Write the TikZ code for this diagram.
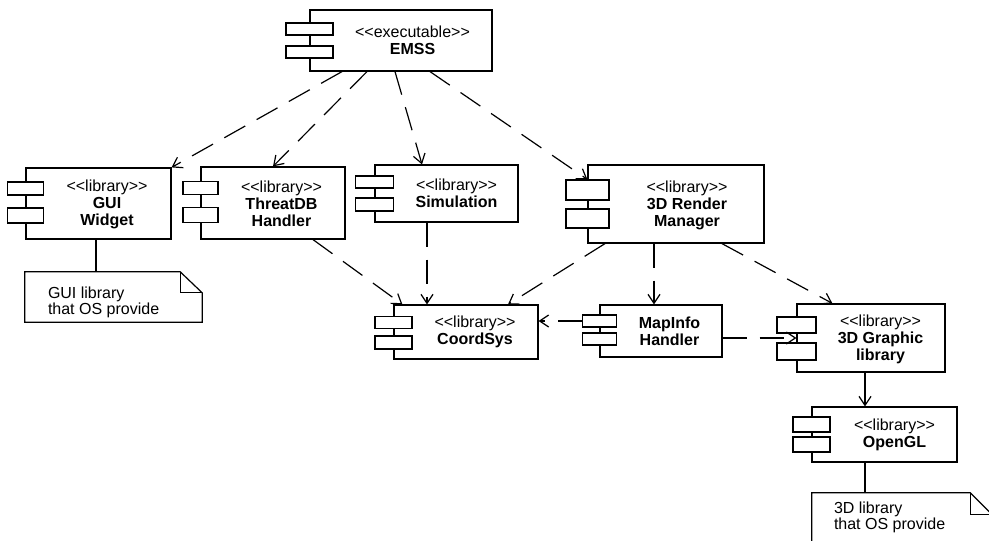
\documentclass[tikz,border=0pt]{standalone}
\usepackage{fontspec}
\setmainfont{Liberation Sans}[Ligatures=TeXOff]
\usetikzlibrary{arrows.meta}

\begin{document}
\begin{tikzpicture}[x=1pt, y=-1pt,
  every node/.style={inner sep=0pt, font=\fontsize{16}{17}\selectfont},
  compbody/.style={rectangle, draw, line width=1.2pt, fill=white},
  port/.style 2 args={rectangle, draw, line width=1.2pt, fill=white,
                      minimum width=#1, minimum height=#2},
  comptext/.style={align=center},
  notebox/.style={rectangle, draw=none},
  noteline/.style={draw, line width=1.2pt, line join=miter},
  notetext/.style={align=left, anchor=north west, font=\fontsize{16}{16}\selectfont},
  dep/.style={draw, line width=1.2pt, dash pattern=on 24pt off 13pt,
              -{Straight Barb[length=9pt, width=12pt]}},
  flow/.style={draw, line width=1.2pt, -{Straight Barb[length=9pt, width=12pt]}},
  link/.style={draw, line width=1.2pt}
]
\useasboundingbox (0,0) rectangle (989,541);
\clip (0,0) rectangle (989,541);

% EXECUTABLE
\node[compbody, minimum width=182, minimum height=61] (emss) at (401,40.5) {};
\node[port={47}{12}] (emss-p1) at ([yshift=11.5]emss.west) {};
\node[port={47}{12}] (emss-p2) at ([yshift=-11.5]emss.west) {};
\node[comptext] (emss-t) at ([xshift=11.5]emss.center) {<<executable>>\\\textbf{EMSS}};

% ROW 1: LIBRARIES
\node[compbody, minimum width=145, minimum height=71] (gui) at (98.5,203.5) {};
\node[port={36}{13}] (gui-p1) at ([yshift=15]gui.west) {};
\node[port={36}{15}] (gui-p2) at ([yshift=-12]gui.west) {};
\node[comptext] (gui-t) at ([xshift=8.5,yshift=-1]gui.center) {<<library>>\\\textbf{GUI}\\\textbf{Widget}};

\node[compbody, minimum width=144, minimum height=72] (tdb) at (273,203) {};
\node[port={35}{13}] (tdb-p1) at ([yshift=15]tdb.west) {};
\node[port={35}{15}] (tdb-p2) at ([yshift=-12]tdb.west) {};
\node[comptext] (tdb-t) at ([xshift=8.5,yshift=-1]tdb.center) {<<library>>\\\textbf{ThreatDB}\\\textbf{Handler}};

\node[compbody, minimum width=143, minimum height=57] (sim) at (446.5,193.5) {};
\node[port={38}{12}] (sim-p1) at ([yshift=11.5]sim.west) {};
\node[port={38}{13}] (sim-p2) at ([yshift=-11]sim.west) {};
\node[comptext] (sim-t) at ([xshift=10]sim.center) {<<library>>\\\textbf{Simulation}};

\node[compbody, minimum width=176, minimum height=78] (rnd) at (676,204) {};
\node[port={43}{20}] (rnd-p1) at ([yshift=14]rnd.west) {};
\node[port={43}{19}] (rnd-p2) at ([yshift=-14.5]rnd.west) {};
\node[comptext] (rnd-t) at ([xshift=11,yshift=-1]rnd.center) {<<library>>\\\textbf{3D Render}\\\textbf{Manager}};

% ROW 2: LIBRARIES
\node[compbody, minimum width=144, minimum height=54] (crd) at (466,332) {};
\node[port={37}{12}] (crd-p1) at ([yshift=9.5]crd.west) {};
\node[port={37}{13}] (crd-p2) at ([yshift=-10.5]crd.west) {};
\node[comptext] (crd-t) at ([xshift=9]crd.center) {<<library>>\\\textbf{CoordSys}};

\node[compbody, minimum width=122, minimum height=52] (map) at (661,331) {};
\node[port={34}{12}] (map-p1) at ([yshift=10]map.west) {};
\node[port={34}{12}] (map-p2) at ([yshift=-8]map.west) {};
\node[comptext] (map-t) at ([xshift=8.5]map.center) {\textbf{MapInfo}\\\textbf{Handler}};

\node[compbody, minimum width=148, minimum height=68] (gfx) at (871,338) {};
\node[port={39}{16}] (gfx-p1) at ([yshift=13]gfx.west) {};
\node[port={39}{17}] (gfx-p2) at ([yshift=-13.5]gfx.west) {};
\node[comptext] (gfx-t) at ([xshift=9.5,yshift=-1]gfx.center) {<<library>>\\\textbf{3D Graphic}\\\textbf{library}};

% ROW 3: OPENGL
\node[compbody, minimum width=145, minimum height=55] (ogl) at (884.5,434.5) {};
\node[port={37}{15}] (ogl-p1) at ([yshift=10]ogl.west) {};
\node[port={37}{15}] (ogl-p2) at ([yshift=-10]ogl.west) {};
\node[comptext] (ogl-t) at ([xshift=10]ogl.center) {<<library>>\\\textbf{OpenGL}};

% NOTES
\node[notebox, minimum width=177, minimum height=50] (gnote) at (113.5,297) {};
\draw[noteline] (gnote.north west) -- ([xshift=-22]gnote.north east)
  -- ([yshift=-21]gnote.north east) -- (gnote.south east) -- (gnote.south west) -- cycle;
\draw[noteline] ([xshift=-22]gnote.north east) |- ([yshift=-21]gnote.north east);
\node[notetext] (gnote-t) at ([xshift=23,yshift=-15]gnote.north west) {GUI library\\that OS provide};

\node[notebox, minimum width=180, minimum height=67] (onote) at (902,526.5) {};
\draw[noteline] (onote.north west) -- ([xshift=-22]onote.north east)
  -- ([yshift=-22]onote.north east) -- (onote.south east) -- (onote.south west) -- cycle;
\draw[noteline] ([xshift=-22]onote.north east) |- ([yshift=-22]onote.north east);
\node[notetext] (onote-t) at ([xshift=22,yshift=-9]onote.north west) {3D library\\that OS provide};

% DEPENDENCIES
\draw[dep] ([xshift=-59]emss.south) -- (gui.north east);
\draw[dep] ([xshift=-34]emss.south) -- (tdb.north);
\draw[dep] ([xshift=-6]emss.south) -- ([xshift=-24.5]sim.north);
\draw[dep] ([xshift=29]emss.south) -- (rnd-p1.north);
\draw[dep] ([xshift=40]tdb.south) -- ([xshift=9]crd.north west);
\draw[dep] ([xshift=-19.5]sim.south) -- ([xshift=-19.5]sim.south |- crd.north);
\draw[dep] ([xshift=-71]rnd.south) -- ([xshift=42]crd.north);
\draw[dep] ([xshift=-22]rnd.south) -- ([xshift=-22]rnd.south |- map.north);
\draw[dep] ([xshift=46]rnd.south) -- ([xshift=36]gfx.north west);
\draw[dep] (map-p1.west) -- (map-p1.west -| crd.east);
\draw[dep] ([yshift=-7]map.east) -- ([yshift=-7]map.east -| gfx.west);
\draw[flow] ([xshift=-6]gfx.south) -- ([xshift=-6]gfx.south |- ogl.north);

% NOTE LINKS
\draw[link] ([xshift=-2.5]gui.south) -- ([xshift=-2.5]gui.south |- gnote.north);
\draw[link] ([xshift=-19.5]ogl.south) -- ([xshift=-19.5]ogl.south |- onote.north);
\end{tikzpicture}
\end{document}
